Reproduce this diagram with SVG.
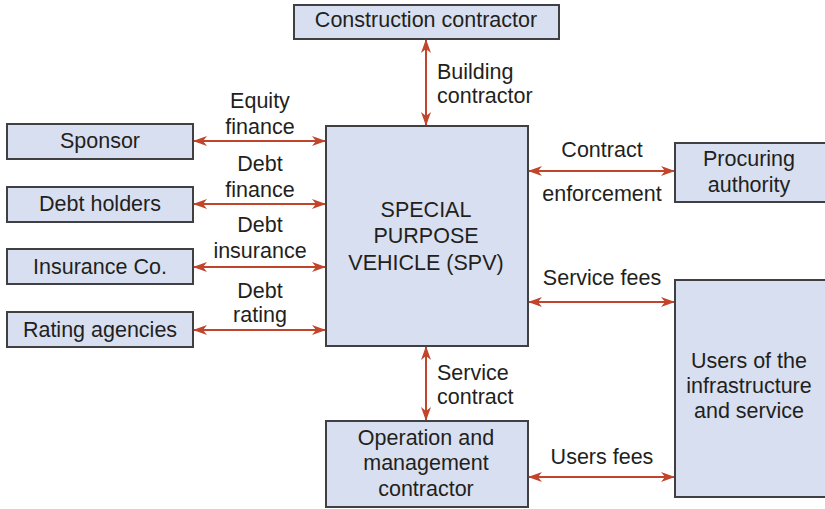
<svg xmlns="http://www.w3.org/2000/svg" width="825" height="509" viewBox="0 0 825 509">
<defs>
<marker id="ah" viewBox="0 0 14 10" refX="13" refY="5" markerWidth="14" markerHeight="10" markerUnits="userSpaceOnUse" orient="auto-start-reverse">
<path d="M0,0 L14,5 L0,10 L4,5 Z" fill="#c0452a"/>
</marker>
</defs>
<style>
.box{fill:#d8dff0;stroke:#3f3f44;stroke-width:2}
text{font-family:"Liberation Sans",Arial,sans-serif;font-size:21.5px;fill:#231f20}
.c{text-anchor:middle}
.con line{stroke:#c0452a;stroke-width:2;marker-start:url(#ah);marker-end:url(#ah)}
</style>
<rect width="825" height="509" fill="#fff"/>
<g id="construction"><rect class="box" x="294" y="5" width="265" height="34"/><text class="c" x="426" y="27">Construction contractor</text></g>
<g id="sponsor"><rect class="box" x="7" y="124" width="186" height="35"/><text class="c" x="100" y="148">Sponsor</text></g>
<g id="debtholders"><rect class="box" x="7" y="187" width="186" height="35"/><text class="c" x="100" y="211">Debt holders</text></g>
<g id="insurance"><rect class="box" x="7" y="249" width="186" height="35"/><text class="c" x="100" y="274">Insurance Co.</text></g>
<g id="rating"><rect class="box" x="7" y="312" width="186" height="35"/><text class="c" x="100" y="337">Rating agencies</text></g>
<g id="spv"><rect class="box" x="326" y="126" width="202" height="220"/><text class="c" x="426" y="217">SPECIAL</text><text class="c" x="426" y="243">PURPOSE</text><text class="c" x="426" y="270">VEHICLE (SPV)</text></g>
<g id="procuring"><rect class="box" x="675" y="143" width="152" height="59"/><text class="c" x="749" y="166">Procuring</text><text class="c" x="749" y="192">authority</text></g>
<g id="users"><rect class="box" x="675" y="280" width="152" height="217"/><text class="c" x="749" y="368">Users of the</text><text class="c" x="749" y="393">infrastructure</text><text class="c" x="749" y="418">and service</text></g>
<g id="operation"><rect class="box" x="326" y="421" width="202" height="86"/><text class="c" x="426" y="445">Operation and</text><text class="c" x="426" y="470">management</text><text class="c" x="426" y="496">contractor</text></g>
<g id="connectors" class="con">
<line x1="426" y1="40" x2="426" y2="125"/>
<line x1="194" y1="141" x2="325" y2="141"/>
<line x1="194" y1="204" x2="325" y2="204"/>
<line x1="194" y1="267" x2="325" y2="267"/>
<line x1="194" y1="330" x2="325" y2="330"/>
<line x1="529" y1="171" x2="674" y2="171"/>
<line x1="529" y1="302" x2="674" y2="302"/>
<line x1="426" y1="347" x2="426" y2="420"/>
<line x1="529" y1="477" x2="674" y2="477"/>
</g>
<g id="labels">
<text x="437" y="79">Building</text><text x="437" y="103">contractor</text>
<text class="c" x="260" y="108">Equity</text><text class="c" x="260" y="134">finance</text>
<text class="c" x="260" y="171">Debt</text><text class="c" x="260" y="197">finance</text>
<text class="c" x="260" y="232">Debt</text><text class="c" x="260" y="258">insurance</text>
<text class="c" x="260" y="298">Debt</text><text class="c" x="260" y="322">rating</text>
<text class="c" x="602" y="157">Contract</text><text class="c" x="602" y="201">enforcement</text>
<text class="c" x="602" y="285">Service fees</text>
<text x="437" y="380">Service</text><text x="437" y="404">contract</text>
<text class="c" x="602" y="464">Users fees</text>
</g>
</svg>
